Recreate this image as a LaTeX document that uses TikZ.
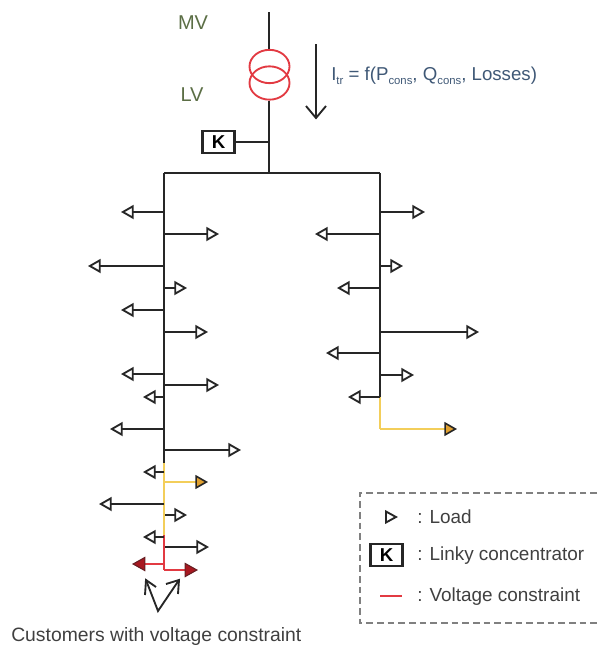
\documentclass[tikz,border=0pt]{standalone}
\usepackage{fontspec}
\setmainfont{Liberation Sans}
\usetikzlibrary{arrows.meta,shapes.geometric}
\definecolor{linecol}{HTML}{262626}
\definecolor{yel}{HTML}{F3CE5A}
\definecolor{orangefill}{HTML}{E0A030}
\definecolor{redl}{HTML}{E23A42}
\definecolor{darkred}{HTML}{A81820}
\definecolor{olive}{HTML}{5B6E45}
\definecolor{slateb}{HTML}{3F5876}
\definecolor{txt}{HTML}{404040}
\tikzset{
  x=0.75pt,y=-0.75pt,
  wire/.style={draw=linecol,line width=1.5pt},
  loadw/.style={wire,-{Triangle[open,length=9.5pt,width=10.5pt,line width=1.4pt]}},
  yelline/.style={draw=yel,line width=1.6pt},
  yelload/.style={draw=yel,line width=1.5pt,-{Triangle[length=9.5pt,width=10.5pt,fill=orangefill,color=linecol,line width=1.2pt]}},
  redline/.style={draw=redl,line width=1.6pt},
  redload/.style={draw=redl,line width=1.5pt,-{Triangle[length=10pt,width=11pt,fill=darkred,color=linecol!50!darkred,line width=.8pt]}},
  coil/.style={ellipse,draw=redl,line width=1.4pt,minimum width=30pt,minimum height=25pt,inner sep=0pt},
  kbox/.style={draw=linecol,line width=1.6pt,fill=white,minimum width=24pt,minimum height=16pt,inner sep=0pt,font=\fontsize{14}{14}\selectfont\bfseries},
  label/.style={inner sep=0pt,anchor=west,text=txt,font=\fontsize{14.2}{16}\selectfont},
  lvtext/.style={inner sep=0pt,text=olive,font=\fontsize{15}{16}\selectfont},
  headline/.style={draw=linecol,line width=1.4pt,line join=miter},
  legendbox/.style={draw=gray,line width=.9pt,dash pattern=on 5pt off 3pt}
}
\newcommand{\brch}[5]{%
  \coordinate (#1a) at (#2,#3);\coordinate (#1b) at (#4,#3);
  \draw[#5] (#1a) -- (#1b);}
\begin{document}
\begin{tikzpicture}
\useasboundingbox (0,0) rectangle (597,646);
% top
\coordinate (top) at (269,12);
\node[coil] (c1) at (269.5,66.5) {};
\node[coil] (c2) at (269.5,83) {};
\coordinate (busm) at (269,173);
\coordinate (busl) at (164,173);
\coordinate (busr) at (380,173);
\coordinate (kj) at (269,142);
\draw[wire] (top) -- (c1.north -| top);
\draw[wire] (c2.south -| top) -- (busm);
\draw[wire] (busm) -- (busl);
\draw[wire] (busm) -- (busr);
\node[kbox] (k) at (218.5,142) {K};
\draw[wire] (k.east) -- (kj);
\node[lvtext] (mv) at (193,23) {MV};
\node[lvtext] (lv) at (192,95) {LV};
\coordinate (ia) at (316,44);\coordinate (ib) at (316,118);
\coordinate (ic) at (306,106);\coordinate (id) at (326,106);
\draw[wire] (ia) -- (ib);
\draw[headline] (ic) -- (ib) -- (id);
\node[inner sep=0pt,anchor=west,text=slateb,font=\fontsize{14}{16}\selectfont] (itr) at (331,76)
  {I\raisebox{-2.5pt}{\fontsize{8.5}{8}\selectfont tr} = f(P\raisebox{-2.5pt}{\fontsize{8.5}{8}\selectfont cons}, Q\raisebox{-2.5pt}{\fontsize{8.5}{8}\selectfont cons}, Losses)};
% left trunk
\coordinate (lbk) at (164,463);\coordinate (lrd) at (164,535);\coordinate (lend) at (164,570);
\draw[yelline] (lbk) -- (lrd);
\draw[redline] (lrd) -- (lend);
\draw[wire] (busl) -- (lbk);
\brch{l1}{164}{212}{121}{loadw}
\brch{l2}{164}{234}{219}{loadw}
\brch{l3}{164}{266}{88}{loadw}
\brch{l4}{164}{288}{187}{loadw}
\brch{l5}{164}{310}{121}{loadw}
\brch{l6}{164}{332}{208}{loadw}
\brch{l7}{164}{374}{121}{loadw}
\brch{l8}{164}{385}{219}{loadw}
\brch{l9}{164}{397}{143}{loadw}
\brch{l10}{164}{429}{110}{loadw}
\brch{l11}{164}{450}{241}{loadw}
\brch{l12}{164}{472}{143}{loadw}
\brch{l13}{164}{482}{208}{yelload}
\brch{l14}{164}{504}{99}{loadw}
\brch{l15}{165}{515}{187}{loadw}
\brch{l16}{164}{537}{143}{loadw}
\brch{l17}{165}{547}{209}{loadw}
\brch{l18}{164}{564}{132}{redload}
\brch{l19}{164}{570}{198}{redload}
% right trunk
\coordinate (rbk) at (380,397);\coordinate (rc) at (380,429);\coordinate (rt) at (457,429);
\draw[wire] (busr) -- (rbk);
\draw[yelline] (rbk) -- (rc);
\draw[yelload] (rc) -- (rt);
\brch{r1}{380}{212}{425}{loadw}
\brch{r2}{380}{234}{315}{loadw}
\brch{r3}{380}{266}{403}{loadw}
\brch{r4}{380}{288}{337}{loadw}
\brch{r5}{380}{332}{479}{loadw}
\brch{r6}{380}{353}{326}{loadw}
\brch{r7}{380}{375}{414}{loadw}
\brch{r8}{380}{397}{348}{loadw}
% customers
\coordinate (vv) at (158,611);\coordinate (va) at (146,580);\coordinate (vb) at (179,580);
\coordinate (va1) at (145,595);\coordinate (va2) at (156,587);
\coordinate (vb1) at (166,584);\coordinate (vb2) at (178,594);
\draw[headline] (va) -- (vv) -- (vb);
\draw[headline] (va1) -- (va) -- (va2);
\draw[headline] (vb1) -- (vb) -- (vb2);
\node[label,font=\fontsize{14.5}{16}\selectfont] (cust) at (11,636) {Customers with voltage constraint};
% legend
\coordinate (b1) at (597,493);\coordinate (b2) at (360,493);\coordinate (b3) at (360,623);\coordinate (b4) at (597,623);
\draw[legendbox] (b1) -- (b2) -- (b3) -- (b4);
\coordinate (lg1) at (386,511.5);\coordinate (lg2) at (396,517);\coordinate (lg3) at (386,522.5);
\draw[headline] (lg1) -- (lg2) -- (lg3) -- cycle;
\node[kbox] (lgk) at (386.5,555) {K};
\coordinate (lra) at (380,596);\coordinate (lrb) at (402,596);
\draw[redline] (lra) -- (lrb);
\node[label] (t1) at (417,517) {: Load};
\node[label] (t2) at (417,556) {: Linky concentrator};
\node[label] (t3) at (417,597) {: Voltage constraint};
\end{tikzpicture}
\end{document}
